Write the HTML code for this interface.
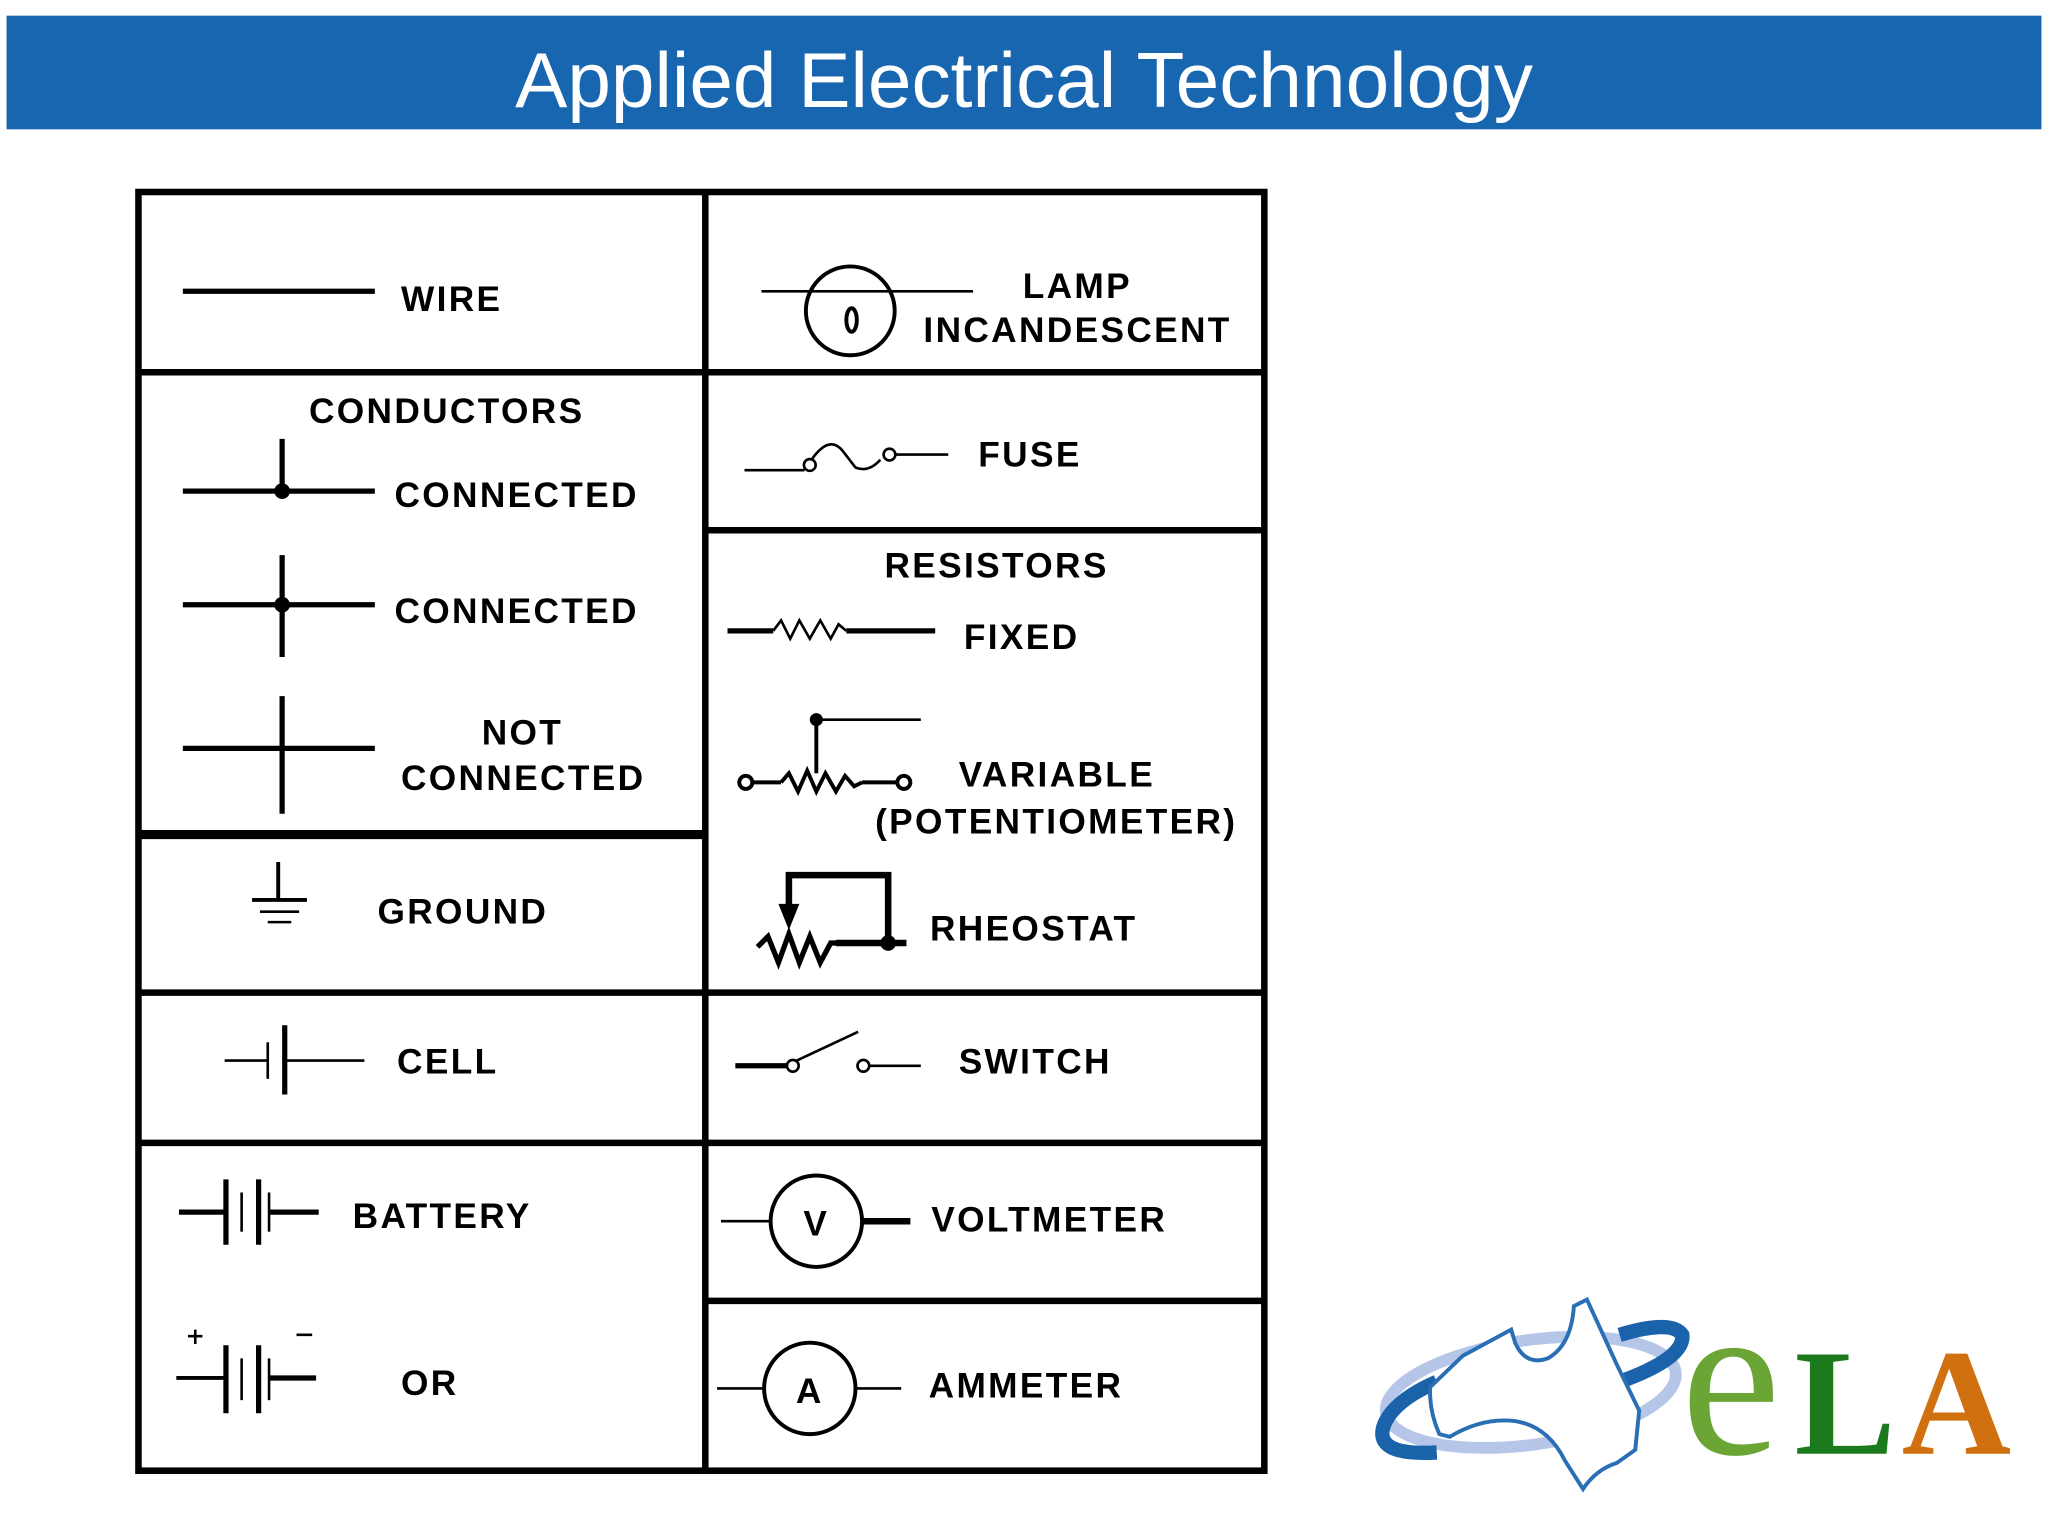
<!DOCTYPE html>
<html><head><meta charset="utf-8"><style>
html,body{margin:0;padding:0;background:#fff}
svg{display:block}
.t{font-family:"Liberation Sans",sans-serif;font-weight:bold;font-size:27px;letter-spacing:1.8px;fill:#000}
</style></head><body>
<svg width="2048" height="1536" viewBox="0 0 1568 1176" xmlns="http://www.w3.org/2000/svg">
<rect x="5" y="12" width="1558" height="87" fill="#1866b0"/>
<text x="784" y="82" text-anchor="middle" fill="#fff" font-family="Liberation Sans,sans-serif" font-size="60">Applied Electrical Technology</text>

<g stroke="#000" fill="none">
<rect x="106" y="147" width="862" height="979" stroke-width="5"/>
<line x1="540" y1="147" x2="540" y2="1126" stroke-width="5"/>
<line x1="106" y1="285" x2="968" y2="285" stroke-width="5"/>
<line x1="106" y1="639" x2="540" y2="639" stroke-width="7"/>
<line x1="540" y1="406" x2="968" y2="406" stroke-width="5"/>
<line x1="106" y1="760" x2="968" y2="760" stroke-width="5"/>
<line x1="106" y1="875" x2="968" y2="875" stroke-width="5"/>
<line x1="540" y1="996" x2="968" y2="996" stroke-width="5"/>

<line x1="140" y1="223" x2="287" y2="223" stroke-width="4"/>
<line x1="583" y1="223" x2="745" y2="223" stroke-width="2"/>
<circle cx="651" cy="238" r="34" stroke-width="3"/>
<ellipse cx="652" cy="245" rx="4" ry="9" stroke-width="3"/>
<line x1="140" y1="376" x2="287" y2="376" stroke-width="4"/>
<line x1="216" y1="336" x2="216" y2="376" stroke-width="4"/>
<line x1="140" y1="463" x2="287" y2="463" stroke-width="4"/>
<line x1="216" y1="425" x2="216" y2="503" stroke-width="4"/>
<line x1="140" y1="573" x2="287" y2="573" stroke-width="4"/>
<line x1="216" y1="533" x2="216" y2="623" stroke-width="4"/>
<line x1="213" y1="660" x2="213" y2="689" stroke-width="3"/>
<line x1="193" y1="689" x2="235" y2="689" stroke-width="3"/>
<line x1="199" y1="698" x2="229" y2="698" stroke-width="2"/>
<line x1="205" y1="706" x2="223" y2="706" stroke-width="2"/>
<line x1="172" y1="812" x2="205" y2="812" stroke-width="2"/>
<line x1="205" y1="798" x2="205" y2="826" stroke-width="2"/>
<line x1="218" y1="785" x2="218" y2="838" stroke-width="4"/>
<line x1="218" y1="812" x2="279" y2="812" stroke-width="2"/>
<line x1="137" y1="928" x2="173" y2="928" stroke-width="4"/>
<line x1="173" y1="903" x2="173" y2="953" stroke-width="4"/>
<line x1="185" y1="913" x2="185" y2="943" stroke-width="2"/>
<line x1="198" y1="903" x2="198" y2="953" stroke-width="4"/>
<line x1="206" y1="913" x2="206" y2="943" stroke-width="2"/>
<line x1="206" y1="928" x2="244" y2="928" stroke-width="4"/>
<line x1="135" y1="1055" x2="173" y2="1055" stroke-width="3"/>
<line x1="173" y1="1030" x2="173" y2="1082" stroke-width="4"/>
<line x1="185" y1="1040" x2="185" y2="1072" stroke-width="2"/>
<line x1="198" y1="1030" x2="198" y2="1082" stroke-width="4"/>
<line x1="206" y1="1040" x2="206" y2="1072" stroke-width="2"/>
<line x1="206" y1="1055" x2="242" y2="1055" stroke-width="4"/>
<line x1="144" y1="1023" x2="155" y2="1023" stroke-width="2"/>
<line x1="149.5" y1="1018" x2="149.5" y2="1029" stroke-width="2"/>
<line x1="227" y1="1022" x2="239" y2="1022" stroke-width="2"/>
<line x1="570" y1="360" x2="616" y2="360" stroke-width="2"/>
<circle cx="620" cy="356" r="4.5" stroke-width="2"/>
<path d="M622 351 Q635 333 645 345 L655 358 Q665 362 674 352" stroke-width="2"/>
<circle cx="681" cy="348" r="4.5" stroke-width="2"/>
<line x1="686" y1="348" x2="726" y2="348" stroke-width="2"/>
<line x1="557" y1="483" x2="592" y2="483" stroke-width="4"/>
<path d="M592 483 L598 475 L605 489 L612 475 L620 489 L628 475 L636 489 L642 478 L648 483" stroke-width="2"/>
<line x1="648" y1="483" x2="716" y2="483" stroke-width="4"/>
<circle cx="571" cy="599" r="5" stroke-width="3"/>
<line x1="576" y1="599" x2="598" y2="599" stroke-width="3"/>
<path d="M598 599 L604 592 L611 606 L618 590 L625 606 L632 592 L640 606 L647 594 L654 602 L660 599" stroke-width="3"/>
<line x1="660" y1="599" x2="687" y2="599" stroke-width="3"/>
<circle cx="692" cy="599" r="5" stroke-width="3"/>
<line x1="625" y1="551" x2="625" y2="592" stroke-width="3"/>
<line x1="625" y1="551" x2="705" y2="551" stroke-width="2"/>
<path d="M604 702 L604 670 L680 670 L680 722" stroke-width="5"/>
<path d="M580 725 L588 717 L596 737 L604 715 L612 737 L620 717 L628 737 L636 722 L644 722" stroke-width="4"/>
<line x1="640" y1="722" x2="694" y2="722" stroke-width="5"/>
<line x1="563" y1="816" x2="603" y2="816" stroke-width="4"/>
<circle cx="607" cy="816" r="4.5" stroke-width="2"/>
<line x1="610" y1="812" x2="657" y2="790" stroke-width="2"/>
<circle cx="661" cy="816" r="4.5" stroke-width="2"/>
<line x1="666" y1="816" x2="705" y2="816" stroke-width="2"/>
<line x1="552" y1="935" x2="590" y2="935" stroke-width="2"/>
<circle cx="625" cy="935" r="35" stroke-width="3"/>
<line x1="660" y1="935" x2="697" y2="935" stroke-width="5"/>
<line x1="549" y1="1063" x2="585" y2="1063" stroke-width="2"/>
<circle cx="620" cy="1063" r="35" stroke-width="3"/>
<line x1="655" y1="1063" x2="690" y2="1063" stroke-width="2"/>
</g>
<g fill="#000">
<circle cx="216" cy="376" r="6"/>
<circle cx="216" cy="463" r="6"/>
<circle cx="625" cy="551" r="5"/>
<circle cx="680" cy="722" r="6"/>
<path d="M596 692 L612 692 L604 712 Z"/>
</g>

<text class="t" x="307" y="238">WIRE</text>
<text class="t" x="783" y="228">LAMP</text>
<text class="t" x="707" y="262">INCANDESCENT</text>
<text class="t" x="342" y="324" text-anchor="middle">CONDUCTORS</text>
<text class="t" x="302" y="388">CONNECTED</text>
<text class="t" x="302" y="477">CONNECTED</text>
<text class="t" x="400" y="570" text-anchor="middle">NOT</text>
<text class="t" x="307" y="605">CONNECTED</text>
<text class="t" x="289" y="707">GROUND</text>
<text class="t" x="304" y="822">CELL</text>
<text class="t" x="270" y="940">BATTERY</text>
<text class="t" x="307" y="1068">OR</text>
<text class="t" x="749" y="357">FUSE</text>
<text class="t" x="763" y="442" text-anchor="middle">RESISTORS</text>
<text class="t" x="738" y="497">FIXED</text>
<text class="t" x="734" y="602">VARIABLE</text>
<text class="t" x="670" y="638">(POTENTIOMETER)</text>
<text class="t" x="712" y="720">RHEOSTAT</text>
<text class="t" x="734" y="822">SWITCH</text>
<text class="t" x="625" y="946" text-anchor="middle" letter-spacing="0">V</text>
<text class="t" x="713" y="943">VOLTMETER</text>
<text class="t" x="620" y="1074" text-anchor="middle" letter-spacing="0">A</text>
<text class="t" x="711" y="1070">AMMETER</text>

<!-- logo -->
<g fill="none">
<ellipse cx="1172" cy="1066" rx="112" ry="40" transform="rotate(-8 1172 1066)" stroke="#b5c6e8" stroke-width="9"/>
<path d="M1100 1112 Q1050 1115 1060 1090 Q1068 1072 1100 1058" stroke="#1a63aa" stroke-width="11"/>
<path d="M1240 1058 Q1290 1040 1288 1022 Q1280 1010 1240 1022" stroke="#1a63aa" stroke-width="11"/>
<path d="M1095 1062 L1120 1038 L1157 1018 L1160 1028 Q1168 1046 1185 1040 Q1203 1030 1205 1000 L1215 995 L1238 1045 L1255 1080 L1252 1110 L1238 1120 Q1222 1125 1212 1140 L1198 1118 Q1185 1092 1160 1088 Q1135 1085 1110 1100 L1102 1098 Q1094 1080 1095 1062 Z" fill="#fff" stroke="#2a6fb5" stroke-width="3"/>
</g>
<text x="1287" y="1113" font-family="Liberation Serif,serif" font-size="172" fill="#6aa535">e</text>
<text x="1374" y="1113" font-family="Liberation Serif,serif" font-weight="bold" font-size="116" fill="#1c7a1c">L</text>
<text x="1456" y="1113" font-family="Liberation Serif,serif" font-weight="bold" font-size="116" fill="#d0700f">A</text>
</svg>
</body></html>
